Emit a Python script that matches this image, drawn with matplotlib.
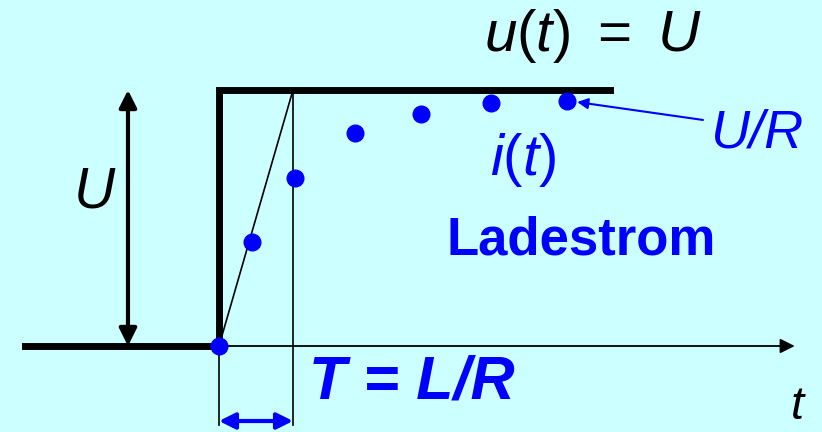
import matplotlib
matplotlib.use("Agg")
import matplotlib.pyplot as plt
from matplotlib.patches import FancyArrowPatch

plt.rcParams['font.family'] = ['Liberation Sans', 'DejaVu Sans']
plt.rcParams['mathtext.fontset'] = 'custom'
plt.rcParams['mathtext.rm'] = 'Liberation Sans'
plt.rcParams['mathtext.it'] = 'Liberation Sans:italic'
plt.rcParams['mathtext.bf'] = 'Liberation Sans:bold'

# time in units of T = L/R, values in units of U (resp. U/R)
t_u = [-2.62, 0, 0, 5.28]
u = [0, 0, 1, 1]
t_i = [0, 0.45, 1.03, 1.84, 2.73, 3.68, 4.70]
i = [0, 0.406, 0.656, 0.832, 0.906, 0.949, 0.957]
T = 1.0

bg = '#CCFFFF'
blue = '#0000FF'

fig = plt.figure(figsize=(8.22, 4.32), dpi=100, facecolor=bg)
ax = fig.add_axes([0, 0, 1, 1])
ax.set_facecolor(bg)
ax.set_xlim(-219 / 74, (822 - 219) / 74)
ax.set_ylim(-(432 - 346) / 256, 346 / 256)
ax.axis('off')

# time axis with arrow
ax.add_patch(FancyArrowPatch((0, 0), (7.78, 0), arrowstyle='-|>', mutation_scale=22,
                             lw=1.3, color='black', shrinkA=0, shrinkB=0))

# helper lines for T
ax.plot([0, 0], [0, -0.31], color='black', lw=1.2)
ax.plot([T, T], [1, -0.31], color='black', lw=1.2)
ax.plot([0, T], [0, 1], color='black', lw=1.2)

# step voltage
ax.plot(t_u, u, color='black', lw=5, solid_joinstyle='miter')

# U arrow
ax.add_patch(FancyArrowPatch((-1.23, 0), (-1.23, 1), arrowstyle='<|-|>', mutation_scale=26,
                             lw=3, color='black', shrinkA=0, shrinkB=0))
# T arrow
ax.add_patch(FancyArrowPatch((0, -0.293), (T, -0.293), arrowstyle='<|-|>', mutation_scale=24,
                             lw=3, color=blue, shrinkA=0, shrinkB=0))

# current points
ax.plot(t_i, i, 'o', color=blue, ms=12, zorder=5)

# U/R pointer
ax.add_patch(FancyArrowPatch((6.54, 0.883), (4.84, 0.953), arrowstyle='-|>', mutation_scale=16,
                             lw=1.5, color=blue, shrinkA=0, shrinkB=0))

ax.text(5.05, 1.21, r'$u(t)\ =\ U$', fontsize=42, ha='center', va='center', color='black')
ax.text(-1.68, 0.60, 'U', fontsize=41, fontstyle='italic', ha='center', va='center', color='black')
ax.text(4.11, 0.727, r'$i(t)$', fontsize=42, ha='center', va='center', color=blue)
ax.text(4.9, 0.414, 'Ladestrom', fontsize=38, fontweight='bold', ha='center', va='center', color=blue)
ax.text(7.28, 0.83, 'U/R', fontsize=39, fontstyle='italic', ha='center', va='center', color=blue)
ax.text(2.6, -0.145, 'T = L/R', fontsize=44, fontweight='bold', fontstyle='italic',
        ha='center', va='center', color=blue)
ax.text(7.82, -0.24, 't', fontsize=34, fontstyle='italic', ha='center', va='center', color='black')

fig.savefig('out.png', dpi=100, facecolor=bg)
